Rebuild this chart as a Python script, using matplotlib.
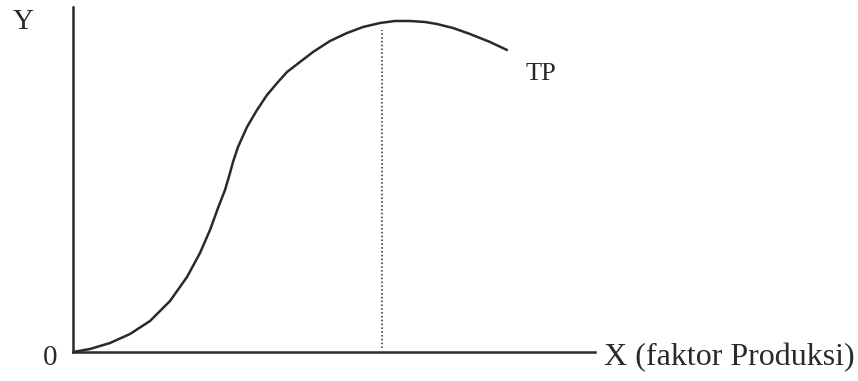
import matplotlib
matplotlib.use("Agg")
import matplotlib.pyplot as plt

# total product curve (x = input, y = output)
tp_x = [0, 17, 37, 57, 77, 97, 114, 127, 137, 145, 152, 157, 160, 165, 174, 184, 194,
        205, 214, 227, 240, 257, 274, 290, 307, 322, 337, 352, 364, 380, 397, 417, 434]
tp_y = [0, 3, 9, 18, 31, 51, 75, 99, 122, 144, 162, 179, 190, 205, 225, 242, 257,
        270, 280, 290, 300, 311, 319, 325, 329, 331, 331, 330, 328, 324, 318, 310, 302]

# dotted guide line
guide_x = 309
guide_top = 322

ink = "#2a2a2a"
plt.rcParams["font.family"] = ["Liberation Serif", "DejaVu Serif"]

fig = plt.figure(figsize=(8.58, 3.81), dpi=100)
ax = fig.add_axes([73 / 858, 29 / 381, 522 / 858, 345 / 381])
ax.set_xlim(0, 522)
ax.set_ylim(0, 345)

ax.plot(tp_x, tp_y, color=ink, linewidth=1.8, solid_capstyle="round", solid_joinstyle="round")
ax.plot([guide_x, guide_x], [4, guide_top], color=ink, linewidth=1.1, linestyle=(0, (1, 1.5)))

for side in ["top", "right"]:
    ax.spines[side].set_visible(False)
for side in ["left", "bottom"]:
    ax.spines[side].set_color(ink)
    ax.spines[side].set_linewidth(1.8)
ax.set_xticks([])
ax.set_yticks([])
ax.patch.set_alpha(0)

ax.text(-60, 330, "Y", fontsize=21, color=ink, ha="left", va="center")
ax.text(-23, -6, "0", fontsize=21, color=ink, ha="center", va="center")
ax.text(531, -6, "X (faktor Produksi)", fontsize=23, color=ink, ha="left", va="center", clip_on=False)
ax.text(453, 278, "TP", fontsize=19, color=ink, ha="left", va="center")

fig.savefig("out.png", dpi=100, facecolor="white")
